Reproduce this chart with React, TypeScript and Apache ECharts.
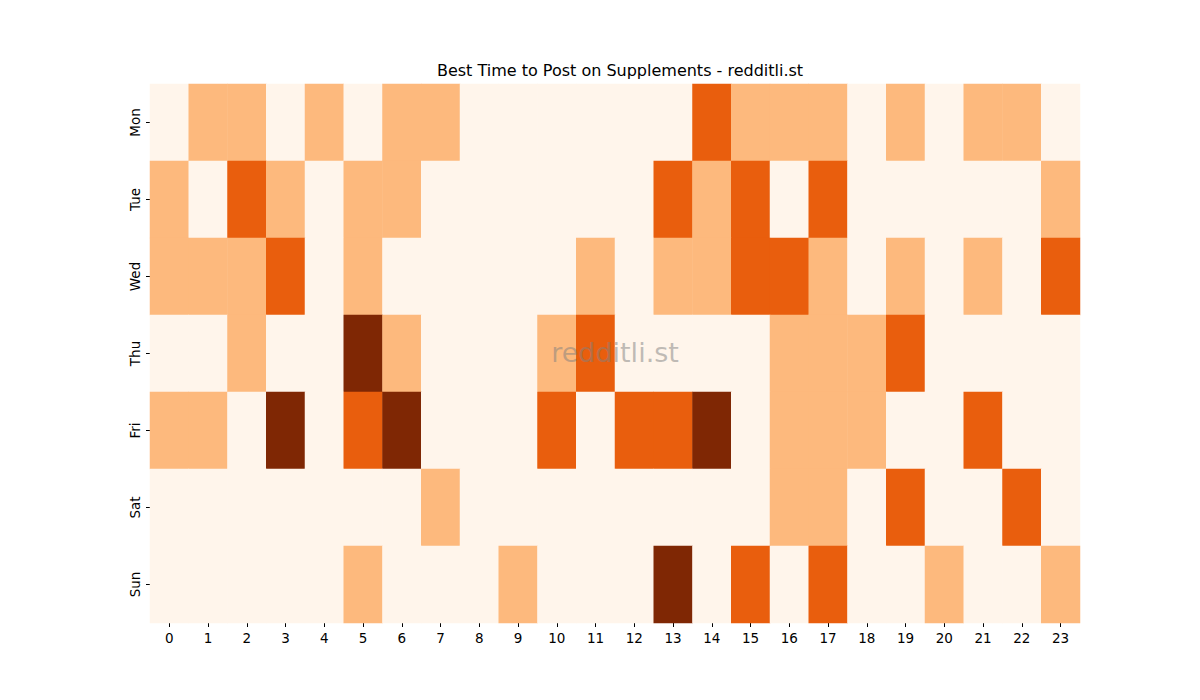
import React, { useEffect, useRef } from "react";
import * as echarts from "echarts";

const hours = ["0", "1", "2", "3", "4", "5", "6", "7", "8", "9", "10", "11", "12", "13", "14", "15", "16", "17", "18", "19", "20", "21", "22", "23"];
const days = ["Mon", "Tue", "Wed", "Thu", "Fri", "Sat", "Sun"];

// activity level per hour (0-3), one row per day
const mon = [0, 1, 1, 0, 1, 0, 1, 1, 0, 0, 0, 0, 0, 0, 2, 1, 1, 1, 0, 1, 0, 1, 1, 0];
const tue = [1, 0, 2, 1, 0, 1, 1, 0, 0, 0, 0, 0, 0, 2, 1, 2, 0, 2, 0, 0, 0, 0, 0, 1];
const wed = [1, 1, 1, 2, 0, 1, 0, 0, 0, 0, 0, 1, 0, 1, 1, 2, 2, 1, 0, 1, 0, 1, 0, 2];
const thu = [0, 0, 1, 0, 0, 3, 1, 0, 0, 0, 1, 2, 0, 0, 0, 0, 1, 1, 1, 2, 0, 0, 0, 0];
const fri = [1, 1, 0, 3, 0, 2, 3, 0, 0, 0, 2, 0, 2, 2, 3, 0, 1, 1, 1, 0, 0, 2, 0, 0];
const sat = [0, 0, 0, 0, 0, 0, 0, 1, 0, 0, 0, 0, 0, 0, 0, 0, 1, 1, 0, 2, 0, 0, 2, 0];
const sun = [0, 0, 0, 0, 0, 1, 0, 0, 0, 1, 0, 0, 0, 3, 0, 2, 0, 2, 0, 0, 1, 0, 0, 1];

const rows = [mon, tue, wed, thu, fri, sat, sun];
const levelColors = ["#fff5eb", "#fdb97d", "#e95e0d", "#7f2704"];

const App: React.FC = () => {
  const chartRef = useRef<HTMLDivElement>(null);

  useEffect(() => {
    document.body.style.margin = "0";
    if (!chartRef.current) return;
    const chart = echarts.init(chartRef.current, null, { renderer: "svg" });

    const data: number[][] = [];
    rows.forEach((row, d) => {
      row.forEach((v, h) => {
        data.push([h, d, v]);
      });
    });

    const font = "DejaVu Sans";

    chart.setOption({
      animation: false,
      backgroundColor: "#ffffff",
      title: {
        text: "Best Time to Post on Supplements - redditli.st",
        left: 615,
        top: 57,
        textAlign: "center",
        textStyle: {
          fontFamily: font,
          fontSize: 16,
          fontWeight: "normal",
          color: "#000",
        },
      },
      grid: {
        left: 150,
        right: 120,
        top: 84,
        bottom: 77,
      },
      xAxis: {
        type: "category",
        data: hours,
        axisLine: { show: false },
        axisTick: {
          show: true,
          alignWithLabel: true,
          length: 4,
          lineStyle: { color: "#000" },
        },
        axisLabel: {
          fontFamily: font,
          fontSize: 13.5,
          color: "#000",
          margin: 8,
          interval: 0,
        },
        splitLine: { show: false },
      },
      yAxis: {
        type: "category",
        data: days,
        inverse: true,
        axisLine: { show: false },
        axisTick: {
          show: true,
          alignWithLabel: true,
          length: 4,
          lineStyle: { color: "#000" },
        },
        axisLabel: {
          fontFamily: font,
          fontSize: 13.5,
          color: "#000",
          rotate: 90,
          margin: 8,
          interval: 0,
        },
        splitLine: { show: false },
      },
      visualMap: {
        show: false,
        type: "piecewise",
        dimension: 2,
        pieces: levelColors.map((c, i) => ({ value: i, color: c })),
      },
      series: [
        {
          type: "heatmap",
          data: data,
          itemStyle: { borderWidth: 0 },
          emphasis: { disabled: true },
        },
      ],
      graphic: [
        {
          type: "text",
          x: 615,
          y: 352,
          style: {
            text: "redditli.st",
            fontFamily: font,
            fontSize: 27,
            fill: "rgba(128,128,128,0.5)",
            align: "center",
            verticalAlign: "middle",
          },
          z: 100,
        },
      ],
    });

    return () => {
      chart.dispose();
    };
  }, []);

  return <div ref={chartRef} style={{ width: "1200px", height: "700px" }}></div>;
};

export default App;
